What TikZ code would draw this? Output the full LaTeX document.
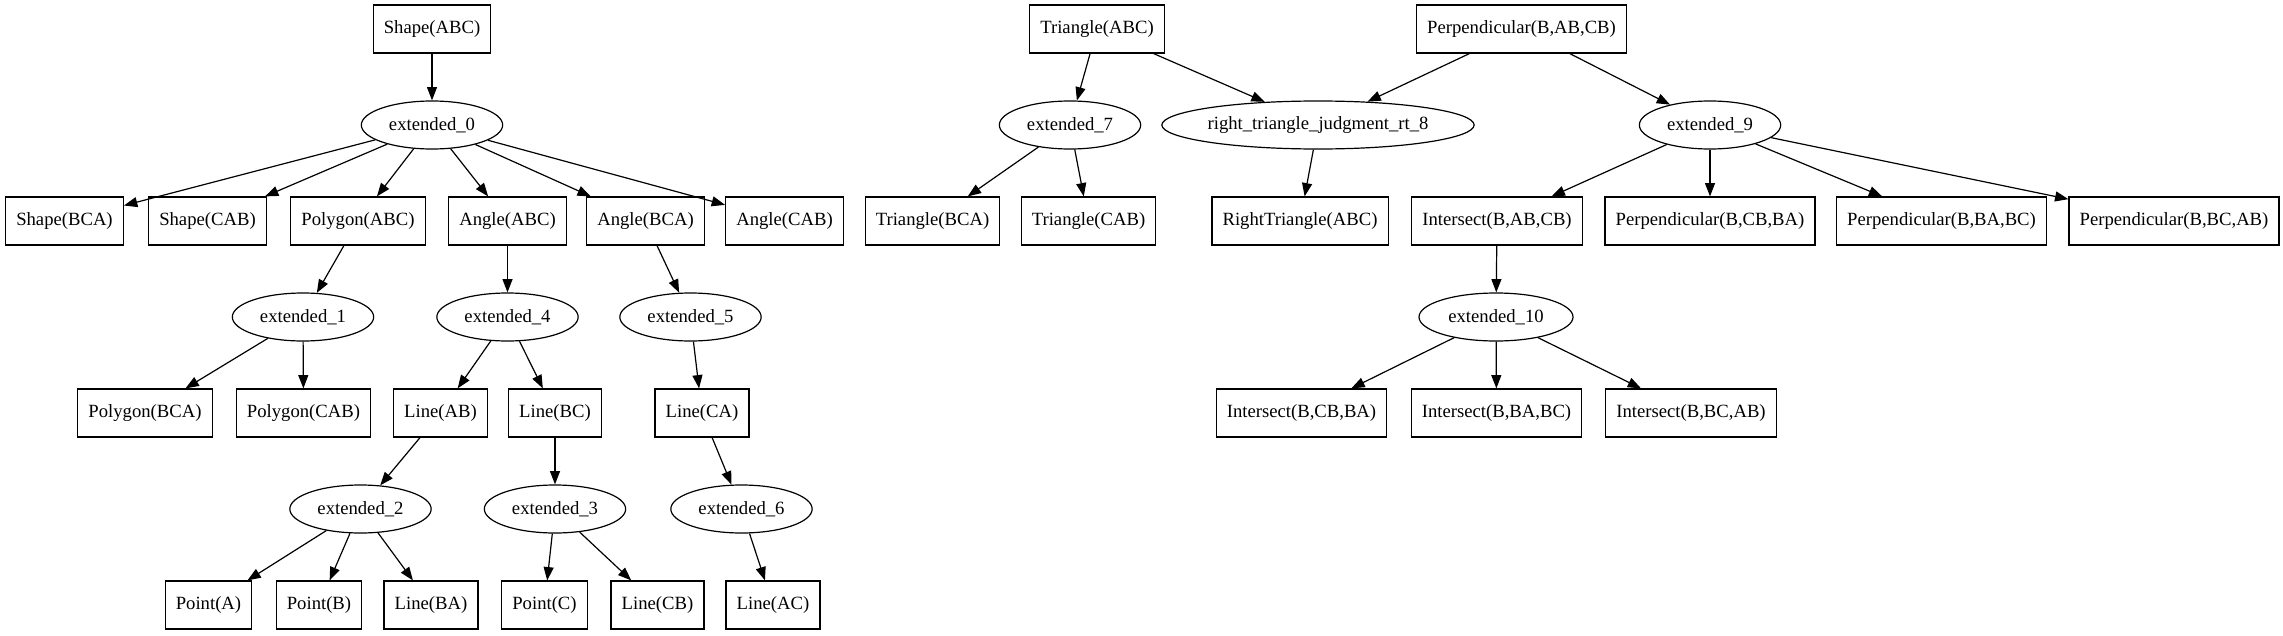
\documentclass[tikz,border=0pt]{standalone}
\usepackage{fontspec}
\setmainfont{Liberation Serif}
\usepackage{tikz}
\usetikzlibrary{arrows.meta,shapes.geometric}

\begin{document}
\begin{tikzpicture}[x=0.75pt,y=-0.75pt,
    >={Triangle[length=10pt,width=7.5pt]},
    fact/.style={draw,line width=0.9pt,rectangle,inner xsep=8pt,minimum height=36pt,font=\fontsize{14pt}{16pt}\selectfont},
    rule/.style={draw,line width=0.9pt,ellipse,inner sep=0pt,minimum height=36pt,minimum width=106pt,font=\fontsize{14pt}{16pt}\selectfont},
    link/.style={->,line width=0.9pt}]
      \useasboundingbox[fill=white] (0,0) rectangle (2283,635);
      % top row
      \node[fact] (shapeABC) at (432,29) {Shape(ABC)};
      \node[fact] (triABC) at (1097,29) {Triangle(ABC)};
      \node[fact] (perpBABCB) at (1521.5,29) {Perpendicular(B,AB,CB)};
      % rules
      \node[rule] (ext0) at (432,125) {extended\_0};
      \node[rule] (ext7) at (1070,125) {extended\_7};
      \node[rule,minimum width=231pt] (rt8) at (1318,125) {right\_triangle\_judgment\_rt\_8};
      \node[rule] (ext9) at (1710,125) {extended\_9};
      % second row of facts
      \node[fact] (shapeBCA) at (64.5,221) {Shape(BCA)};
      \node[fact] (shapeCAB) at (207.5,221) {Shape(CAB)};
      \node[fact] (polyABC) at (358,221) {Polygon(ABC)};
      \node[fact] (angABC) at (507.5,221) {Angle(ABC)};
      \node[fact] (angBCA) at (645.5,221) {Angle(BCA)};
      \node[fact] (angCAB) at (784.5,221) {Angle(CAB)};
      \node[fact] (triBCA) at (932.5,221) {Triangle(BCA)};
      \node[fact] (triCAB) at (1088.5,221) {Triangle(CAB)};
      \node[fact] (rtriABC) at (1300,221) {RightTriangle(ABC)};
      \node[fact] (intBABCB) at (1497,221) {Intersect(B,AB,CB)};
      \node[fact] (perpBCBBA) at (1710,221) {Perpendicular(B,CB,BA)};
      \node[fact] (perpBBABC) at (1941.5,221) {Perpendicular(B,BA,BC)};
      \node[fact] (perpBBCAB) at (2174,221) {Perpendicular(B,BC,AB)};
      % rules
      \node[rule] (ext1) at (303,317) {extended\_1};
      \node[rule] (ext4) at (507.5,317) {extended\_4};
      \node[rule] (ext5) at (690.5,317) {extended\_5};
      \node[rule,minimum width=115.5pt] (ext10) at (1496,317) {extended\_10};
      % third row of facts
      \node[fact] (polyBCA) at (145,413) {Polygon(BCA)};
      \node[fact] (polyCAB) at (303.5,413) {Polygon(CAB)};
      \node[fact] (lineAB) at (440.5,413) {Line(AB)};
      \node[fact] (lineBC) at (555,413) {Line(BC)};
      \node[fact] (lineCA) at (702,413) {Line(CA)};
      \node[fact] (intBCBBA) at (1301.5,413) {Intersect(B,CB,BA)};
      \node[fact] (intBBABC) at (1496.5,413) {Intersect(B,BA,BC)};
      \node[fact] (intBBCAB) at (1691,413) {Intersect(B,BC,AB)};
      % rules
      \node[rule] (ext2) at (360.5,509) {extended\_2};
      \node[rule] (ext3) at (555,509) {extended\_3};
      \node[rule] (ext6) at (741.5,509) {extended\_6};
      % bottom row
      \node[fact] (pointA) at (208.5,605) {Point(A)};
      \node[fact] (pointB) at (319,605) {Point(B)};
      \node[fact] (lineBA) at (431,605) {Line(BA)};
      \node[fact] (pointC) at (544.5,605) {Point(C)};
      \node[fact] (lineCB) at (657.5,605) {Line(CB)};
      \node[fact] (lineAC) at (773,605) {Line(AC)};
      \foreach \u/\v in {shapeABC/ext0,ext0/shapeBCA,ext0/shapeCAB,ext0/polyABC,ext0/angABC,ext0/angBCA,ext0/angCAB,
        polyABC/ext1,angABC/ext4,angBCA/ext5,ext1/polyBCA,ext1/polyCAB,ext4/lineAB,ext4/lineBC,ext5/lineCA,
        lineAB/ext2,lineBC/ext3,lineCA/ext6,ext2/pointA,ext2/pointB,ext2/lineBA,ext3/pointC,ext3/lineCB,ext6/lineAC,
        triABC/ext7,triABC/rt8,perpBABCB/rt8,perpBABCB/ext9,ext7/triBCA,ext7/triCAB,rt8/rtriABC,
        ext9/intBABCB,ext9/perpBCBBA,ext9/perpBBABC,ext9/perpBBCAB,intBABCB/ext10,
        ext10/intBCBBA,ext10/intBBABC,ext10/intBBCAB}{\draw[link] (\u) -- (\v);}
    \end{tikzpicture}
\end{document}
